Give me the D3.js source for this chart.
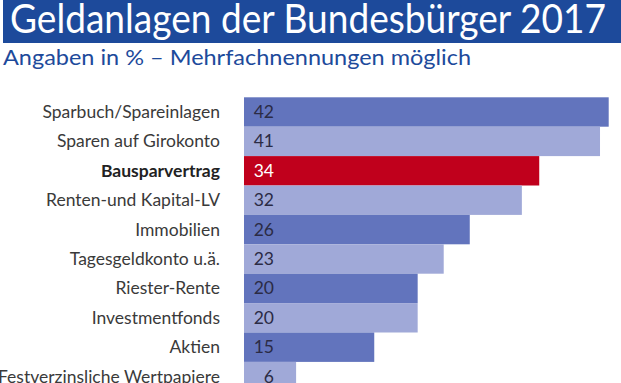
<!DOCTYPE html>
<html><head><meta charset="utf-8">
<script src="https://cdn.jsdelivr.net/npm/d3@7"></script>
<style>html,body{margin:0;padding:0;background:#fff;overflow:hidden}</style>
</head><body><svg id="c" width="621" height="383"></svg>
<script>
const title = "Geldanlagen der Bundesbürger 2017";
const subtitle = "Angaben in % – Mehrfachnennungen möglich";
const categories = ["Sparbuch/Spareinlagen","Sparen auf Girokonto","Bausparvertrag","Renten-und Kapital-LV","Immobilien","Tagesgeldkonto u.ä.","Riester-Rente","Investmentfonds","Aktien","Festverzinsliche Wertpapiere"];
const values = [42,41,34,32,26,23,20,20,15,6];
const highlight = "Bausparvertrag";

const svg = d3.select("#c");
const font = "Lato, 'Open Sans', sans-serif";

svg.append("rect").attr("x",3).attr("y",0).attr("width",618).attr("height",43).attr("fill","#1d4a9b");
svg.append("text").attr("x",10).attr("y",33).attr("fill","#fff")
  .attr("font-family",font).attr("font-size",41)
  .attr("textLength",596).attr("lengthAdjust","spacingAndGlyphs").text(title);
svg.append("text").attr("x",3).attr("y",65).attr("fill","#1d4a9b")
  .attr("font-family",font).attr("font-size",22)
  .attr("textLength",468).attr("lengthAdjust","spacingAndGlyphs").text(subtitle);

const x = d3.scaleLinear().domain([0,42]).range([244,608.7]);
const y = d3.scaleBand().domain(categories).range([97.3,97.3+29.4*categories.length]).paddingInner(0);

const colorOf = (d,i) => d===highlight ? "#c0001c" : (i%2===0 ? "#6274bd" : "#a0a9d8");

const rows = svg.append("g").selectAll("g").data(categories).join("g");
rows.append("rect").attr("x",x(0)).attr("y",d=>y(d)).attr("height",y.bandwidth())
  .attr("width",(d,i)=>x(values[i])-x(0)).attr("fill",colorOf);
rows.append("text").attr("x",220).attr("y",d=>y(d)+y.bandwidth()/2+6)
  .attr("text-anchor","end").attr("font-family",font).attr("font-size",17.5)
  .attr("font-weight",d=>d===highlight?"bold":"normal")
  .attr("fill",d=>d===highlight?"#222":"#3a3a3a").text(d=>d);
rows.append("text").attr("x",274).attr("y",d=>y(d)+y.bandwidth()/2+6)
  .attr("text-anchor","end").attr("font-family",font).attr("font-size",17.5)
  .attr("fill",d=>d===highlight?"#fff":"#2b2b45").text((d,i)=>values[i]);
</script></body></html>
